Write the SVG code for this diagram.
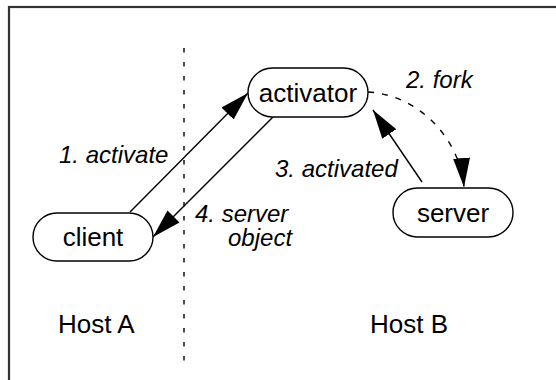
<svg xmlns="http://www.w3.org/2000/svg" width="556" height="380" viewBox="0 0 556 380">
<style>
.node{fill:#fff;stroke:#000;stroke-width:1.4}
.nt{font-family:"Liberation Sans",Arial,sans-serif;font-size:26px;fill:#000}
.lb{font-family:"Liberation Sans",Arial,sans-serif;font-size:24px;font-style:italic;fill:#000}
.ln{fill:none;stroke:#000;stroke-width:1.4}
</style>
<defs>
<marker id="ah" markerUnits="userSpaceOnUse" markerWidth="32" markerHeight="20" refX="29" refY="8.5" orient="auto">
<path d="M0,0 L29,8.5 L0,17 Z" fill="#000"/>
</marker>
</defs>
<rect x="9" y="7" width="560" height="400" fill="none" stroke="#333" stroke-width="2.2"/>
<line x1="184" y1="48" x2="184" y2="364" stroke="#000" stroke-width="1.4" stroke-dasharray="4.5 9.5"/>
<g id="connectors">
<line class="ln" x1="130" y1="212" x2="248" y2="93" marker-end="url(#ah)"/>
<line class="ln" x1="273" y1="117" x2="153" y2="237" marker-end="url(#ah)"/>
<line class="ln" x1="422" y1="182" x2="373" y2="110" marker-end="url(#ah)"/>
<path class="ln" d="M368,92 C420,95 460,140 464,187" stroke-dasharray="6 8" marker-end="url(#ah)"/>
</g>
<g id="activator">
<rect class="node" x="248" y="68" width="120" height="49" rx="24.5"/>
<text class="nt" x="308" y="102" text-anchor="middle">activator</text>
</g>
<g id="server">
<rect class="node" x="393" y="188" width="120" height="49" rx="24.5"/>
<text class="nt" x="453" y="222" text-anchor="middle">server</text>
</g>
<g id="client">
<rect class="node" x="33" y="213" width="120" height="48" rx="24"/>
<text class="nt" x="93" y="246" text-anchor="middle">client</text>
</g>
<g id="labels">
<text class="lb" x="59" y="163">1. activate</text>
<text class="lb" x="406" y="88">2. fork</text>
<text class="lb" x="275" y="177">3. activated</text>
<text class="lb" x="195" y="222">4. server</text>
<text class="lb" x="228" y="246">object</text>
<text class="nt" x="58" y="333">Host A</text>
<text class="nt" x="370" y="333">Host B</text>
</g>
</svg>
